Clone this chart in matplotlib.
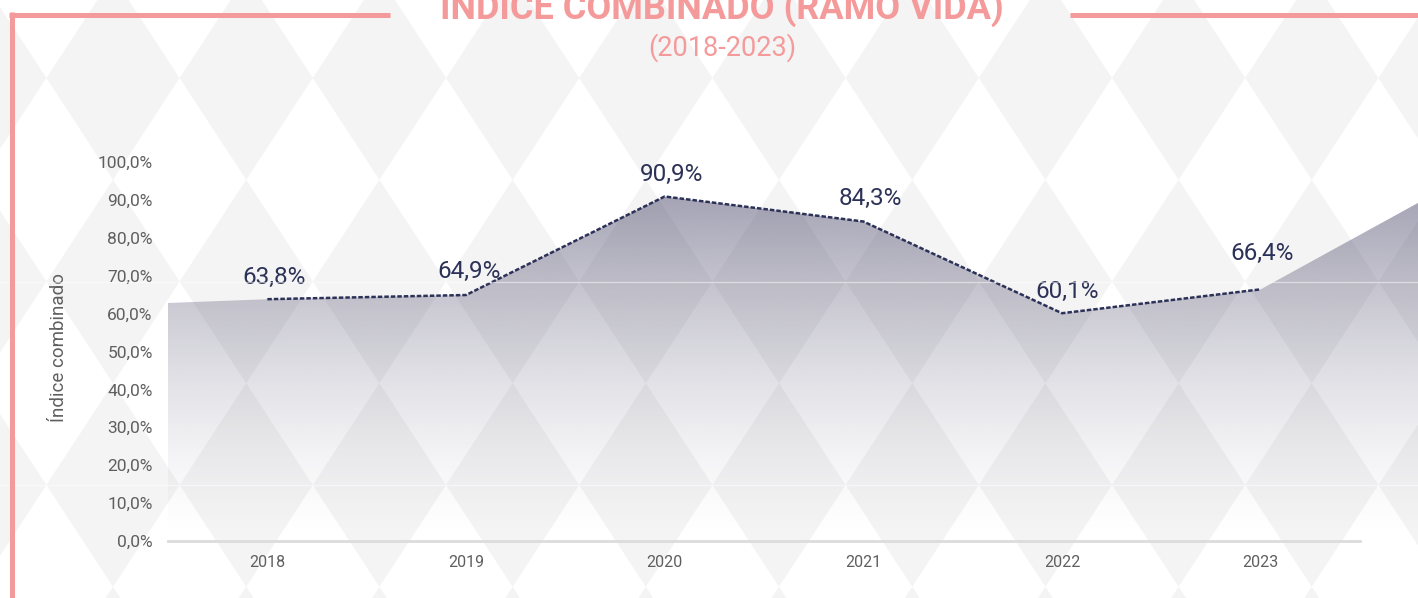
import matplotlib
matplotlib.use("Agg")
import matplotlib.pyplot as plt
import numpy as np
from matplotlib.patches import Polygon
from matplotlib.lines import Line2D

plt.rcParams['font.family'] = ['Roboto', 'DejaVu Sans']

# ---------------- data ----------------
years = ["2018", "2019", "2020", "2021", "2022", "2023"]
values = [63.8, 64.9, 90.9, 84.3, 60.1, 66.4]
labels = ["63,8%", "64,9%", "90,9%", "84,3%", "60,1%", "66,4%"]
yticks = [0, 10, 20, 30, 40, 50, 60, 70, 80, 90, 100]
ytick_labels = ["0,0%", "10,0%", "20,0%", "30,0%", "40,0%", "50,0%",
                "60,0%", "70,0%", "80,0%", "90,0%", "100,0%"]
area_left_value = 62.8    # area edge value at left border of the plot
area_right_value = 89.2   # area edge value at right border of the figure

title = "ÍNDICE COMBINADO (RAMO VIDA)"
subtitle = "(2018-2023)"
ylabel = "Índice combinado"

# ---------------- style ----------------
W, H = 1418, 598
PINK = "#f59a9a"
NAVY = "#2c3157"
GRAYTXT = "#5f5f5f"
PATTERN = "#f4f4f4"

fig = plt.figure(figsize=(W / 100, H / 100), dpi=100)
fig.patch.set_facecolor("white")

# background harlequin pattern (pixel coordinates)
bg = fig.add_axes([0, 0, 1, 1], zorder=-2)
bg.set_xlim(0, W)
bg.set_ylim(H, 0)
bg.axis("off")
px, py = 133.2, 203.5
hw, hh = px / 2, py / 2
for j in range(-1, 5):
    cy = 78 + py * j
    for k in range(-1, 12):
        cx = 113 + px * k
        bg.add_patch(Polygon([(cx - hw, cy), (cx, cy - hh), (cx + hw, cy), (cx, cy + hh)],
                             closed=True, facecolor=PATTERN, edgecolor="none"))

# main axes
left_px, right_px = 168, W
x_axis_end_px = 1360
zero_px, hundred_px = 541, 162
cat_w = (x_axis_end_px - left_px) / 6.0
xmin = -0.5
xmax = 5.5 + (right_px - x_axis_end_px) / cat_w
ax = fig.add_axes([left_px / W, 1 - zero_px / H, (right_px - left_px) / W,
                   (zero_px - hundred_px) / H], zorder=0)
ax.set_facecolor("none")

x = np.arange(len(values))

# gradient-filled area
area_x = np.concatenate([[xmin], x, [xmax]])
area_y = np.concatenate([[area_left_value], values, [area_right_value]])
verts = [(xmin, 0)] + list(zip(area_x, area_y)) + [(xmax, 0)]
poly = Polygon(verts, closed=True, facecolor="none", edgecolor="none")
ax.add_patch(poly)
ny = 400
yy = np.linspace(0, 100, ny)
alpha = np.clip(0.5 * (yy / max(values)) ** 1.45, 0, 0.52)
grad = np.zeros((ny, 2, 4))
grad[..., 0] = 75 / 255
grad[..., 1] = 72 / 255
grad[..., 2] = 106 / 255
grad[..., 3] = alpha[:, None]
im = ax.imshow(grad, extent=[xmin, xmax, 0, 100], origin="lower", aspect="auto",
               zorder=1, interpolation="bilinear")
im.set_clip_path(poly)

# dashed line
ax.plot(x, values, color=NAVY, lw=1.8, dashes=(1.8, 0.8), zorder=3,
        solid_capstyle="butt", dash_capstyle="butt")

# data labels
offsets = [(5, 16), (2, 17), (5, 16), (5, 16.5), (4, 16), (1, 26)]
for xi, v, lab, off in zip(x, values, labels, offsets):
    ax.annotate(lab, (xi, v), xytext=off, textcoords="offset points",
                ha="center", va="center", fontsize=17.5, color=NAVY, zorder=4)

ax.set_xlim(xmin, xmax)
ax.set_ylim(0, 100)
ax.set_xticks(x)
ax.set_xticklabels(years, fontsize=11.5, color=GRAYTXT)
ax.set_yticks(yticks)
ax.set_yticklabels(ytick_labels, fontsize=12.5, color=GRAYTXT)
ax.tick_params(axis="both", length=0)
ax.tick_params(axis="x", pad=10)
ax.tick_params(axis="y", pad=11)
for s in ["top", "right", "left"]:
    ax.spines[s].set_visible(False)
ax.spines["bottom"].set_color("#dcdcdc")
ax.spines["bottom"].set_linewidth(2)
ax.spines["bottom"].set_bounds(xmin, 5.5)
ax.set_ylabel(ylabel, fontsize=13.5, color=GRAYTXT, labelpad=14)
ax.yaxis.set_label_coords(-(168 - 68) / (right_px - left_px), (541 - 348) / (541 - 162))

# titles
fig.text(722 / W, 1 - 19 / H, title, ha="center", va="baseline", fontsize=26,
         fontweight="bold", color=PINK)
fig.text(722 / W, 1 - 48 / H, subtitle, ha="center", va="center", fontsize=19.5,
         fontweight="normal", color=PINK)

# tile seams (faint white lines)
for yseam in (282, 485):
    fig.add_artist(Line2D([0, 1], [1 - yseam / H] * 2, transform=fig.transFigure,
                          color="white", lw=0.9, alpha=0.5, zorder=5))

# pink frame lines
lw_px = 5
fig.add_artist(Line2D([9 / W, 390 / W], [1 - 14.5 / H] * 2, transform=fig.transFigure,
                      color=PINK, lw=lw_px * 0.72, solid_capstyle="butt", zorder=6))
fig.add_artist(Line2D([1070 / W, 1.0], [1 - 14.5 / H] * 2, transform=fig.transFigure,
                      color=PINK, lw=lw_px * 0.72, solid_capstyle="butt", zorder=6))
fig.add_artist(Line2D([11.5 / W, 11.5 / W], [1 - 12 / H, 0], transform=fig.transFigure,
                      color=PINK, lw=lw_px * 0.72, solid_capstyle="butt", zorder=6))

fig.savefig("out.png", dpi=100, facecolor=fig.get_facecolor())
